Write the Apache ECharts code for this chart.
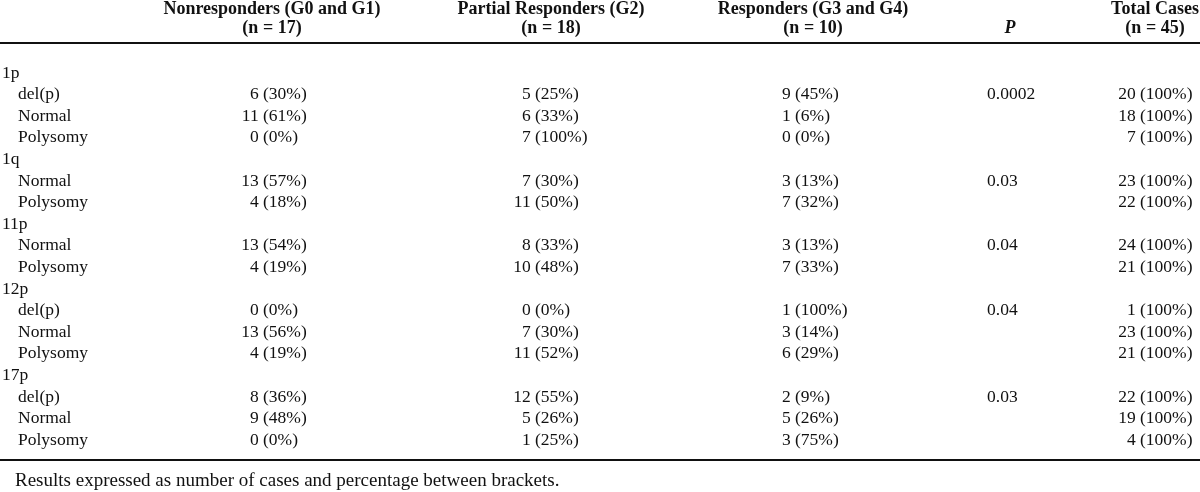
<!DOCTYPE html>
<html><head><meta charset="utf-8">
<script src="https://cdn.jsdelivr.net/npm/echarts@6/dist/echarts.min.js"></script>
<style>html,body{margin:0;padding:0;background:#fff}#c{width:1200px;height:492px}</style>
</head><body><div id="c"></div>
<script>
// ---- data ----
const rowLabels = ['1p','del(p)','Normal','Polysomy','1q','Normal','Polysomy','11p','Normal','Polysomy','12p','del(p)','Normal','Polysomy','17p','del(p)','Normal','Polysomy'];
const nonresponders    = [null,6,11,0,null,13,4,null,13,4,null,0,13,4,null,8,9,0];
const nonrespondersPct = [null,30,61,0,null,57,18,null,54,19,null,0,56,19,null,36,48,0];
const partial          = [null,5,6,7,null,7,11,null,8,10,null,0,7,11,null,12,5,1];
const partialPct       = [null,25,33,100,null,30,50,null,33,48,null,0,30,52,null,55,26,25];
const responders       = [null,9,1,0,null,3,7,null,3,7,null,1,3,6,null,2,5,3];
const respondersPct    = [null,45,6,0,null,13,32,null,13,33,null,100,14,29,null,9,26,75];
const pValues          = [null,'0.0002',null,null,null,'0.03',null,null,'0.04',null,null,'0.04',null,null,null,'0.03',null,null];
const totals           = [null,20,18,7,null,23,22,null,24,21,null,1,23,21,null,22,19,4];
const totalsPct        = [null,100,100,100,null,100,100,null,100,100,null,100,100,100,null,100,100,100];
const headerLine1 = ['Nonresponders (G0 and G1)','Partial Responders (G2)','Responders (G3 and G4)','','Total Cases'];
const headerLine2 = ['(n = 17)','(n = 18)','(n = 10)','P','(n = 45)'];
const footnote = 'Results expressed as number of cases and percentage between brackets.';

// ---- layout / style ----
const FONT = '"Liberation Serif","Times New Roman",serif';
const FS = 17.5, HFS = 18, NFS = 19;
const SPACE = FS * 0.25;
const anchors = {non:263, part:535, resp:795, pLeft:987, total:1140, groupX:2, subX:18};
const headerCenters = [272, 551, 813, 1010, 1155];

const chart = echarts.init(document.getElementById('c'), null, {renderer:'canvas'});

function isGroupRow(i){ return nonresponders[i] == null && partial[i] == null && responders[i] == null && totals[i] == null; }

function txt(x, y, text, align, extra){
  return {type:'text', x:x, y:y, style:Object.assign({text:text, align:align, verticalAlign:'middle', fontFamily:FONT, fontSize:FS, fill:'#111'}, extra||{})};
}

function pctSeries(counts, pcts, anchor){
  const data = [];
  counts.forEach((c,i)=>{ if(c!=null) data.push([String(i), c, pcts[i]]); });
  return {
    type:'custom', coordinateSystem:'cartesian2d', data:data, encode:{y:0},
    renderItem:function(params, api){
      const p = api.coord([anchor, api.value(0)]);
      return {type:'group', children:[
        txt(p[0]-SPACE, p[1], String(api.value(1)), 'right'),
        txt(p[0], p[1], '(' + api.value(2) + '%)', 'left')
      ]};
    }
  };
}

const labelSeries = {
  type:'custom', coordinateSystem:'cartesian2d',
  data: rowLabels.map((l,i)=>[String(i), l]), encode:{y:0},
  renderItem:function(params, api){
    const i = params.dataIndex;
    const p = api.coord([isGroupRow(i) ? anchors.groupX : anchors.subX, String(i)]);
    return txt(p[0], p[1], rowLabels[i], 'left');
  }
};

const pData = pValues.map((v,i)=>v==null?null:[String(i), v]).filter(Boolean);
const pSeries = {
  type:'custom', coordinateSystem:'cartesian2d',
  data: pData, encode:{y:0},
  renderItem:function(params, api){
    const d = pData[params.dataIndex];
    const p = api.coord([anchors.pLeft, d[0]]);
    return txt(p[0], p[1], d[1], 'left');
  }
};

const graphics = [];
headerLine1.forEach((t,k)=>{ if(t) graphics.push({type:'text', x:headerCenters[k], y:9, style:{text:t, align:'center', verticalAlign:'middle', fontFamily:FONT, fontSize:HFS, fontWeight:'bold', fill:'#111'}}); });
headerLine2.forEach((t,k)=>{ if(t) graphics.push({type:'text', x:headerCenters[k], y:28, style:{text:t, align:'center', verticalAlign:'middle', fontFamily:FONT, fontSize:HFS, fontWeight:'bold', fontStyle: t==='P'?'italic':'normal', fill:'#111'}}); });
graphics.push({type:'line', shape:{x1:0,y1:43,x2:1200,y2:43}, style:{stroke:'#111', lineWidth:2}});
graphics.push({type:'line', shape:{x1:0,y1:460,x2:1200,y2:460}, style:{stroke:'#111', lineWidth:2}});
graphics.push({type:'text', x:15, y:481, style:{text:footnote, align:'left', verticalAlign:'middle', fontFamily:FONT, fontSize:NFS, fill:'#111'}});

chart.setOption({
  animation:false,
  backgroundColor:'#fff',
  grid:{left:0, right:0, top:62.2, bottom:41},
  xAxis:{type:'value', min:0, max:1200, show:false},
  yAxis:{type:'category', inverse:true, data:rowLabels.map((_,i)=>String(i)), show:false},
  graphic:graphics,
  series:[
    labelSeries,
    pctSeries(nonresponders, nonrespondersPct, anchors.non),
    pctSeries(partial, partialPct, anchors.part),
    pctSeries(responders, respondersPct, anchors.resp),
    pSeries,
    pctSeries(totals, totalsPct, anchors.total)
  ]
});
</script>
</body></html>
